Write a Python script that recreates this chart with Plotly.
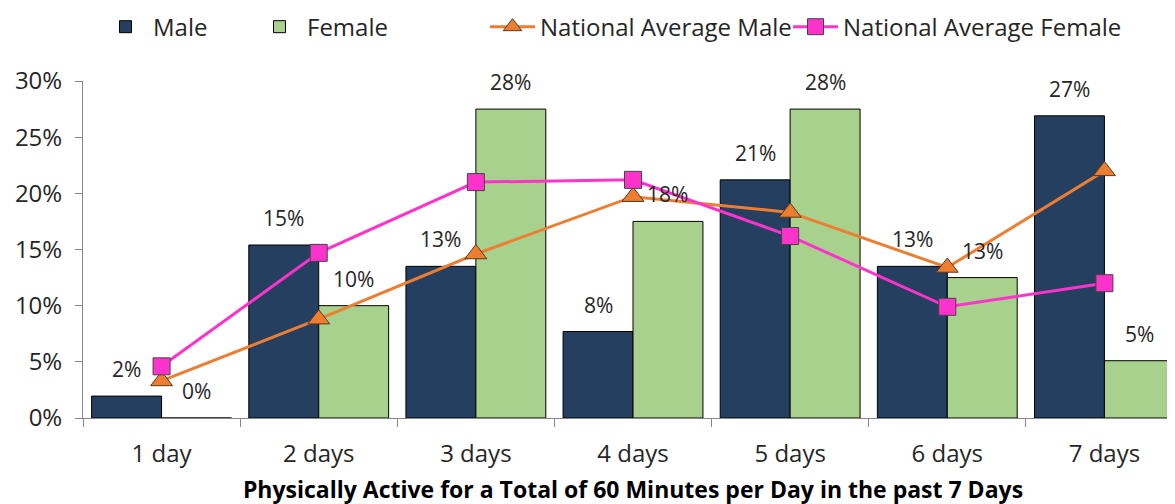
import plotly.graph_objects as go

categories = ["1 day", "2 days", "3 days", "4 days", "5 days", "6 days", "7 days"]
male = [1.95, 15.4, 13.5, 7.7, 21.2, 13.5, 26.9]
female = [0.0, 10.0, 27.5, 17.5, 27.5, 12.5, 5.1]
male_labels = ["2%", "15%", "13%", "8%", "21%", "13%", "27%"]
female_labels = ["0%", "10%", "28%", "18%", "28%", "13%", "5%"]
nat_male = [3.3, 8.8, 14.6, 19.7, 18.3, 13.4, 22.0]
nat_female = [4.6, 14.7, 21.0, 21.2, 16.2, 9.9, 12.0]
y_ticks = [0, 5, 10, 15, 20, 25, 30]

FONT = "Open Sans"
TXT = "#262626"
navy = "#243F60"
green = "#A9D18E"
orange = "#ED7D31"
pink = "#FF33CC"

fig = go.Figure()
fig.add_trace(go.Bar(name="Male", x=categories, y=male, legend="legend", showlegend=True,
                     marker=dict(color=navy, line=dict(color="#000000", width=1))))
fig.add_trace(go.Bar(name="Female", x=categories, y=female, legend="legend2", showlegend=True,
                     marker=dict(color=green, line=dict(color="#000000", width=1))))
fig.add_trace(go.Scatter(name="National Average Male", x=categories, y=nat_male, mode="lines+markers",
                         legend="legend3", showlegend=True, line=dict(color=orange, width=3),
                         marker=dict(symbol="triangle-up", size=19, color=orange, line=dict(color="#5a3a1a", width=1))))
fig.add_trace(go.Scatter(name="National Average Female", x=categories, y=nat_female, mode="lines+markers",
                         legend="legend4", showlegend=True, line=dict(color=pink, width=3),
                         marker=dict(symbol="square", size=17, color=pink, line=dict(color="#444444", width=1))))

# page body adds an 8px offset; margins are in figure coordinates
W, H = 1175, 504
ml, mr, mt, mb = 75, 0, 73, 94
x_range = [-0.5, 6.5]
cat_px = (W - ml - mr) / (x_range[1] - x_range[0])
bargap = 0.11
half = (1 - bargap) / 2 * cat_px / 2

annotations = []
for i, c in enumerate(categories):
    annotations.append(dict(x=c, y=male[i], xref="x", yref="y", text=male_labels[i], showarrow=False,
                            xshift=-half, yshift=27, font=dict(family=FONT, size=21, color=TXT)))
    annotations.append(dict(x=c, y=female[i], xref="x", yref="y", text=female_labels[i], showarrow=False,
                            xshift=half, yshift=27, font=dict(family=FONT, size=21, color=TXT)))

def leg(xpix):
    return dict(orientation="h", x=(xpix - ml) / (W - ml - mr), xanchor="left", y=1.16, yref="paper",
                yanchor="middle", font=dict(family=FONT, size=24, color=TXT), itemwidth=45,
                bgcolor="rgba(0,0,0,0)")

fig.update_layout(
    width=W, height=H, showlegend=True,
    margin=dict(l=ml, r=mr, t=mt, b=mb, autoexpand=False),
    paper_bgcolor="white", plot_bgcolor="white",
    barmode="group", bargap=bargap, bargroupgap=0,
    font=dict(family=FONT, size=21, color=TXT),
    legend=leg(90), legend2=leg(244), legend3=leg(477), legend4=leg(780),
    annotations=annotations,
    xaxis=dict(range=x_range, showline=True, linecolor="#888888", linewidth=1, automargin=False,
               ticks="outside", tickson="boundaries", ticklen=8, tickcolor="#888888",
               tickfont=dict(family=FONT, size=24, color=TXT), ticklabelstandoff=14,
               title=dict(text="<b>Physically Active for a Total of 60 Minutes per Day in the past 7 Days</b>",
                          font=dict(family=FONT, size=23, color="#000000"), standoff=14),
               showgrid=False),
    yaxis=dict(range=[0, 30], tickvals=y_ticks, ticktext=[f"{v}%" for v in y_ticks], automargin=False,
               showline=True, linecolor="#888888", linewidth=1, ticks="outside", ticklen=7,
               tickcolor="#888888", showgrid=False, zeroline=False,
               tickfont=dict(family=FONT, size=24, color=TXT), ticklabelstandoff=8),
)

fig.write_html("out.html")
